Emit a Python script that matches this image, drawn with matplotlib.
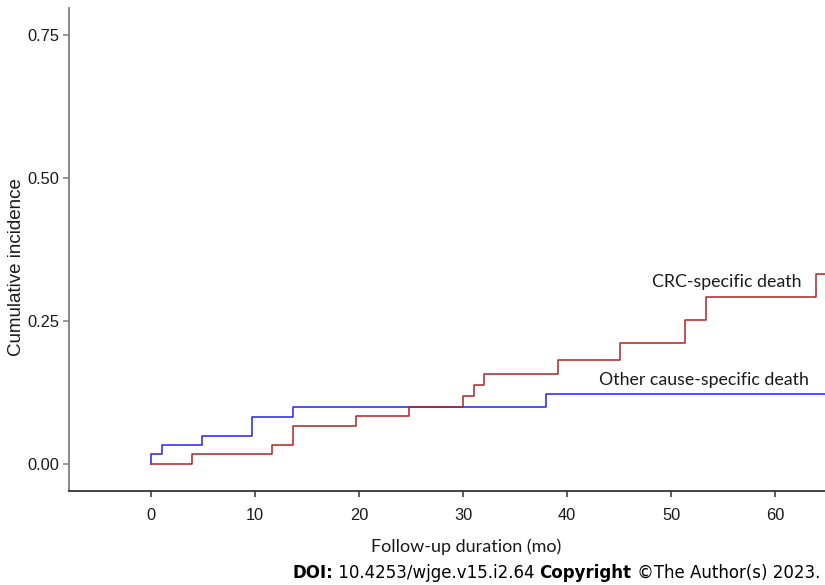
import matplotlib
matplotlib.use("Agg")
import matplotlib.pyplot as plt

# Data (months, cumulative incidence)
other_t = [0.0, 0.0, 1.0, 4.9, 9.7, 13.6, 38.0]
other_y = [0.0, 0.0165, 0.032, 0.049, 0.082, 0.099, 0.122]
crc_t = [0.0, 3.9, 11.6, 13.6, 19.7, 24.8, 30.0, 31.0, 32.0, 39.1, 45.1, 51.3, 53.4, 63.9]
crc_y = [0.0, 0.0165, 0.032, 0.066, 0.0835, 0.100, 0.119, 0.138, 0.157, 0.181, 0.211, 0.251, 0.291, 0.332]
t_end = 66.0

x_ticks = [0, 10, 20, 30, 40, 50, 60]
y_ticks = [0.00, 0.25, 0.50, 0.75]
y_ticklabels = ["0.00", "0.25", "0.50", "0.75"]

fig = plt.figure(figsize=(8.25, 5.85), dpi=100)
ax = fig.add_axes([69/825, 1-491/585, 1-69/825, (491-8)/585])

ax.step(other_t + [t_end], other_y + [other_y[-1]], where="post", color="#2020FF", lw=1.1)
ax.step(crc_t + [t_end], crc_y + [crc_y[-1]], where="post", color="#B22222", lw=1.1)

ax.set_xlim(-7.9, 64.8)
ax.set_ylim(-0.048, 0.798)
ax.set_xticks(x_ticks)
ax.set_yticks(y_ticks)
ax.set_yticklabels(y_ticklabels)
for s in ["top", "right"]:
    ax.spines[s].set_visible(False)
ax.spines["left"].set_color("#7f7f7f")
ax.spines["left"].set_linewidth(1.3)
ax.spines["bottom"].set_color("#333333")
ax.spines["bottom"].set_linewidth(1.3)
ax.tick_params(axis="y", colors="#7f7f7f", length=4, width=1.1, labelcolor="#1a1a1a", pad=3)
ax.tick_params(axis="x", colors="#333333", length=4, width=1.1, labelcolor="#1a1a1a", pad=8)
for lab in ax.get_xticklabels() + ax.get_yticklabels():
    lab.set_fontfamily("Liberation Sans")
    lab.set_fontsize(11.8)

ax.set_ylabel("Cumulative incidence", fontsize=13.5, family="Liberation Sans", color="#1a1a1a")
ax.yaxis.set_label_coords(-(69 - 25.5) / 756, (491 - 267) / 483)

fig.text(466/825, 1-547/585, "Follow-up duration (mo)", ha="center", va="center",
         fontsize=13, family="Lato", color="#1a1a1a")

ann_kw = dict(ha="right", va="center", fontsize=12.8, family="Lato", color="#1a1a1a")
fig.text(802/825, 1-282/585, "CRC-specific death", **ann_kw)
fig.text(809/825, 1-380/585, "Other cause-specific death", **ann_kw)

# DOI line, right aligned
pieces = [("DOI:", "bold"), (" 10.4253/wjge.v15.i2.64 ", "normal"), ("Copyright", "bold"),
          (" \u00a9The Author(s) 2023.", "normal")]
texts = [fig.text(0, 1-573/585, s, fontsize=12, family="DejaVu Sans", weight=w,
                  va="center", ha="left", color="black") for s, w in pieces]
fig.canvas.draw()
r = fig.canvas.get_renderer()
widths = [t.get_window_extent(r).width for t in texts]
x = 820 - sum(widths)
for t, w in zip(texts, widths):
    t.set_x(x / 825)
    x += w

fig.savefig("out.png", dpi=100)
